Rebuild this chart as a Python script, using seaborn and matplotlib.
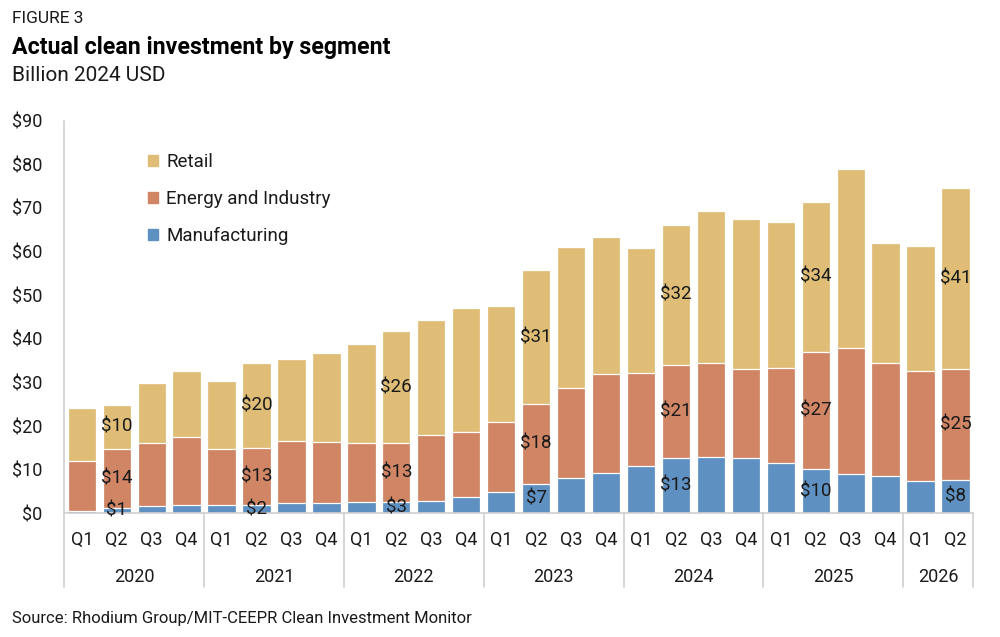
import matplotlib
matplotlib.use("Agg")
import matplotlib.pyplot as plt
import matplotlib.transforms as mtransforms
from matplotlib.patches import Patch
import numpy as np
import pandas as pd
import seaborn as sns

# Data (billion 2024 USD), 2020 Q1 .. 2026 Q2
years = ["2020", "2021", "2022", "2023", "2024", "2025", "2026"]
quarters = ["Q1", "Q2", "Q3", "Q4"]
periods = [f"{y} {q}" for y in years for q in quarters][:26]

manufacturing = [0.6, 1.1, 1.75, 2.0, 1.8, 1.9, 2.3, 2.4, 2.5, 2.7, 2.8, 3.8,
                 4.9, 6.7, 8.0, 9.2, 10.85, 12.6, 12.9, 12.6, 11.45, 10.2, 9.0, 8.55,
                 7.4, 7.7]
energy_industry = [11.5, 13.6, 14.3, 15.4, 12.9, 13.0, 14.35, 13.9, 13.55, 13.4, 15.2, 14.8,
                   16.1, 18.4, 20.65, 22.7, 21.35, 21.4, 21.5, 20.5, 21.75, 26.8, 28.8, 25.9,
                   25.3, 25.45]
retail = [12.0, 10.2, 13.9, 15.3, 15.6, 19.6, 18.7, 20.5, 22.65, 25.7, 26.2, 28.5,
          26.5, 30.6, 32.35, 31.4, 28.7, 32.1, 34.9, 34.4, 33.5, 34.4, 41.1, 27.6,
          28.65, 41.4]

df = pd.DataFrame({
    "period": periods,
    "Manufacturing": manufacturing,
    "Energy and Industry": energy_industry,
    "Retail": retail,
})
df["mfg_top"] = df["Manufacturing"]
df["energy_top"] = df["mfg_top"] + df["Energy and Industry"]
df["total"] = df["energy_top"] + df["Retail"]

c_retail = "#DFBD76"
c_energy = "#D08565"
c_mfg = "#5E91C1"
grid_grey = "#CFCFCF"
text_col = "#1a1a1a"

sns.set_theme(style="white")
plt.rcParams["font.family"] = ["Roboto", "DejaVu Sans"]

fig = plt.figure(figsize=(10, 6.37), dpi=100)
ax = fig.add_axes([0.0643, 0.1942, 0.9087, 0.6163])

# stacked bars by overlaying cumulative totals
for col, color in [("total", c_retail), ("energy_top", c_energy), ("mfg_top", c_mfg)]:
    sns.barplot(data=df, x="period", y=col, order=periods, color=color,
                width=0.81, edgecolor="white", linewidth=0.9, saturation=1,
                errorbar=None, ax=ax)

# value labels on Q2 bars
for i in range(1, len(periods), 4):
    segs = [(0, manufacturing[i]),
            (df["mfg_top"][i], energy_industry[i]),
            (df["energy_top"][i], retail[i])]
    for base, val in segs:
        ax.text(i, base + val / 2, f"${val:.0f}", ha="center", va="center",
                fontsize=13.5, color=text_col)

ax.set_xlim(-0.5, len(periods) - 0.5)
ax.set_ylim(0, 90)
ax.set_yticks(range(0, 91, 10))
ax.set_yticklabels([f"${v}" for v in range(0, 91, 10)])
ax.set_xticks(range(len(periods)))
ax.set_xticklabels([p.split()[1] for p in periods])
ax.set_xlabel("")
ax.set_ylabel("")
ax.tick_params(axis="both", length=0, labelsize=13, colors=text_col)
ax.tick_params(axis="x", pad=13)
ax.tick_params(axis="y", pad=16)

for s in ["top", "right"]:
    ax.spines[s].set_visible(False)
for s in ["left", "bottom"]:
    ax.spines[s].set_color(grid_grey)
    ax.spines[s].set_linewidth(1.2)

# year group separators and labels
trans = mtransforms.blended_transform_factory(ax.transData, ax.transAxes)
bounds = list(np.arange(-0.5, len(periods), 4)) + [len(periods) - 0.5]
for b in bounds:
    ax.plot([b, b], [0, -0.188], transform=trans, color=grid_grey, lw=1.2,
            clip_on=False)
for k, y in enumerate(years):
    lo = bounds[k]
    hi = bounds[k + 1]
    ax.text((lo + hi) / 2, -0.162, y, transform=trans, ha="center", va="center",
            fontsize=13, color=text_col)

handles = [Patch(color=c_retail, label="Retail"),
           Patch(color=c_energy, label="Energy and Industry"),
           Patch(color=c_mfg, label="Manufacturing")]
ax.legend(handles=handles, loc="upper left", bbox_to_anchor=(0.074, 0.96),
          frameon=False, fontsize=13.5, handlelength=0.5, handleheight=0.5,
          handletextpad=0.45, labelspacing=1.0, labelcolor=text_col)

fig.text(0.012, 0.9639, "FIGURE 3", fontsize=12.5, color=text_col, va="baseline")
fig.text(0.012, 0.916, "Actual clean investment by segment", fontsize=16.7,
         fontweight="bold", color="black", va="baseline")
fig.text(0.012, 0.8736, "Billion 2024 USD", fontsize=15, color=text_col, va="baseline")
fig.text(0.012, 0.0215, "Source: Rhodium Group/MIT-CEEPR Clean Investment Monitor",
         fontsize=12, color=text_col, va="baseline")

fig.savefig("out.png", dpi=100)
